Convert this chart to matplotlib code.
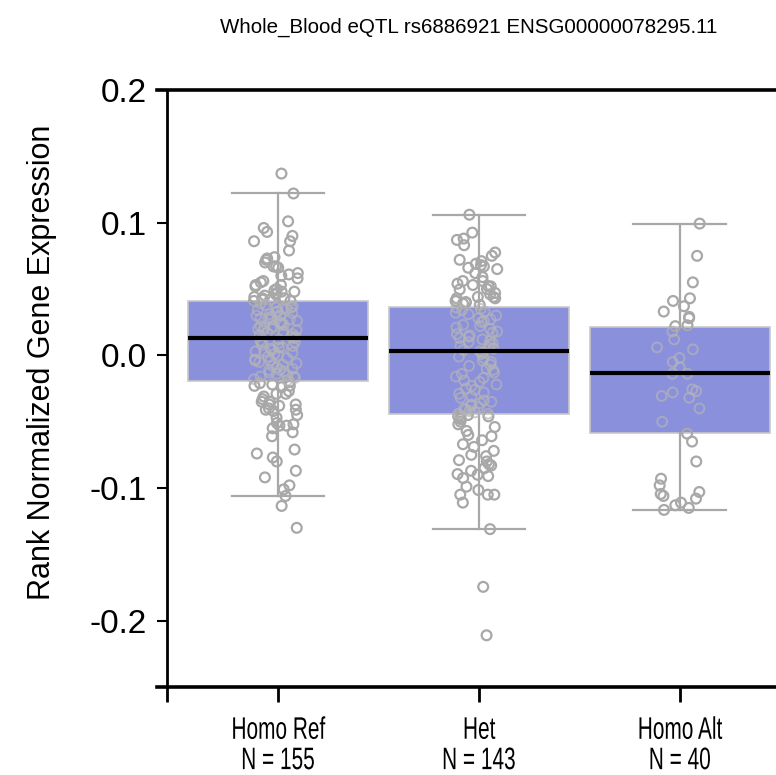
import numpy as np
import matplotlib
matplotlib.use("Agg")
import matplotlib.pyplot as plt
from matplotlib.patheffects import AbstractPathEffect
from matplotlib.transforms import Affine2D

plt.rcParams['font.family'] = ['Liberation Sans', 'DejaVu Sans']

title = "Whole_Blood eQTL rs6886921 ENSG00000078295.11"
groups = ["Homo Ref", "Het", "Homo Alt"]
counts = [155, 143, 40]

# box stats
medians = [0.0128, 0.0030, -0.0135]
q1 = [-0.0195, -0.0444, -0.0586]
q3 = [0.0406, 0.0368, 0.0210]
whis_lo = [-0.106, -0.131, -0.1165]
whis_hi = [0.122, 0.106, 0.0993]

# individual samples
homo_ref = [
    0.137, 0.122, 0.101, 0.096, 0.093, 0.090, 0.086, 0.086, 0.079, 0.074,
    0.073, 0.072, 0.070, 0.067, 0.067, 0.066, 0.062, 0.061, 0.060, 0.058,
    0.056, 0.055, 0.053, 0.053, 0.052, 0.050, 0.049, 0.048, 0.048, 0.047,
    0.046, 0.045, 0.044, 0.043, 0.043, 0.042, 0.042, 0.041, 0.041,
    0.039, 0.038, 0.037, 0.036, 0.036, 0.035, 0.035, 0.034, 0.033, 0.033,
    0.032, 0.031, 0.030, 0.030, 0.029, 0.028, 0.028, 0.027, 0.027, 0.026,
    0.025, 0.024, 0.024, 0.023, 0.022, 0.022, 0.021, 0.020, 0.020, 0.019,
    0.019, 0.018, 0.017, 0.016, 0.016, 0.015, 0.014, 0.014, 0.013, 0.012,
    0.011, 0.010, 0.010, 0.009, 0.008, 0.007, 0.006, 0.006, 0.005, 0.004,
    0.003, 0.003, 0.002, 0.001, 0.000, -0.001, -0.002, -0.003, -0.004, -0.004,
    -0.005, -0.006, -0.007, -0.008, -0.009, -0.010, -0.011, -0.011, -0.012, -0.013,
    -0.014, -0.015, -0.016, -0.016, -0.017, -0.018, -0.019,
    -0.020, -0.021, -0.022, -0.023, -0.023, -0.024, -0.027, -0.029, -0.029, -0.031,
    -0.033, -0.035, -0.035, -0.037, -0.037, -0.038, -0.040, -0.041, -0.041, -0.042,
    -0.045, -0.047, -0.051, -0.052, -0.053, -0.053, -0.055, -0.058, -0.061, -0.071,
    -0.074, -0.077, -0.080, -0.087, -0.092, -0.098, -0.101, -0.106, -0.1135, -0.130,
]
het = [
    0.106, 0.0925, 0.088, 0.087, 0.083, 0.0775, 0.075, 0.072, 0.071, 0.069,
    0.068, 0.067, 0.066, 0.065, 0.062, 0.059, 0.056, 0.056, 0.054, 0.053,
    0.052, 0.052, 0.050, 0.0496, 0.047, 0.046, 0.044, 0.044, 0.043, 0.043,
    0.041, 0.041, 0.040, 0.040, 0.039, 0.038,
    0.036, 0.035, 0.034, 0.033, 0.032, 0.031, 0.030, 0.028, 0.027, 0.026,
    0.025, 0.023, 0.022, 0.021, 0.020, 0.018, 0.017, 0.016, 0.015, 0.014,
    0.013, 0.012, 0.011, 0.010, 0.009, 0.008, 0.007, 0.006, 0.005, 0.004,
    0.003, 0.002, 0.001, -0.001, -0.002, -0.004, -0.005, -0.007, -0.008, -0.010,
    -0.011, -0.013, -0.014, -0.016, -0.017, -0.019, -0.020, -0.022, -0.023, -0.025,
    -0.026, -0.028, -0.029, -0.031, -0.032, -0.034, -0.035, -0.037, -0.038, -0.039,
    -0.040, -0.041, -0.042, -0.043, -0.044, -0.044, -0.036,
    -0.045, -0.046, -0.046, -0.047, -0.048, -0.050, -0.052, -0.054, -0.057, -0.060,
    -0.061, -0.064, -0.067, -0.069, -0.072, -0.075, -0.076, -0.079, -0.080, -0.082,
    -0.083, -0.085, -0.087, -0.0895, -0.090, -0.091, -0.0925, -0.099, -0.1015, -0.105,
    -0.105, -0.105, -0.111, -0.131, -0.1745, -0.211,
]
homo_alt = [
    0.0993, 0.075, 0.055, 0.043, 0.041, 0.037, 0.033, 0.029, 0.028, 0.0226,
    0.022, 0.018, 0.012, 0.006, 0.0045, -0.002, -0.005, -0.009, -0.014, -0.014,
    -0.0256, -0.027, -0.028, -0.0306, -0.032, -0.040, -0.050, -0.059, -0.065, -0.080,
    -0.093, -0.098, -0.103, -0.1045, -0.106, -0.111, -0.113, -0.115, -0.1165, -0.108,
]
samples = [homo_ref, het, homo_alt]


class Squeeze(AbstractPathEffect):
    # narrows text around its own centre (the original uses a condensed face)
    def __init__(self, sx=1.0, sy=1.0):
        super().__init__()
        self.sx = sx
        self.sy = sy

    def draw_path(self, renderer, gc, tpath, affine, rgbFace=None):
        ext = tpath.get_extents(affine)
        cx = ext.x0 + ext.width / 2
        cy = ext.y0 + ext.height / 2
        t = affine + Affine2D().translate(-cx, -cy).scale(self.sx, self.sy).translate(cx, cy)
        renderer.draw_path(gc, tpath, t, rgbFace)


fig = plt.figure(figsize=(7.76, 7.75), dpi=100)
ax = fig.add_axes([0.2023, 0.1135, 0.8165, 0.7704])

box_color = "#8a90dc"
point_color = "#a8a8a8"

stats = []
for i in range(3):
    stats.append({"med": medians[i], "q1": q1[i], "q3": q3[i],
                  "whislo": whis_lo[i], "whishi": whis_hi[i], "fliers": []})

ax.bxp(stats, positions=[0, 1, 2], widths=0.895, patch_artist=True,
       showfliers=False, capwidths=0.46,
       boxprops=dict(facecolor=box_color, edgecolor="#c8c8c8", linewidth=1.2),
       medianprops=dict(color="black", linewidth=3, zorder=5),
       whiskerprops=dict(color=point_color, linewidth=1.6),
       capprops=dict(color=point_color, linewidth=1.6))

# x jitter like a strip plot
rng = np.random.default_rng(7)
for i, vals in enumerate(samples):
    xs = i + rng.uniform(-0.12, 0.10, len(vals))
    vals = np.array(vals)
    inside = (vals > q1[i]) & (vals < q3[i])
    ax.scatter(xs[~inside], vals[~inside], s=50, facecolors="none",
               edgecolors=point_color, linewidths=1.6, zorder=4)
    ax.scatter(xs[inside], vals[inside], s=50, facecolors="none",
               edgecolors="#b4b4b8", linewidths=1.4, alpha=0.7, zorder=4)

ax.set_xlim(-0.602, 2.552)
ax.set_ylim(-0.25, 0.2)
ax.spines["left"].set_position(("data", -0.552))
ax.spines["right"].set_visible(False)
for side in ["top", "bottom"]:
    ax.spines[side].set_linewidth(2.6)
ax.spines["left"].set_linewidth(2.0)

ax.set_yticks([0.2, 0.1, 0.0, -0.1, -0.2])
ax.set_yticklabels(["0.2", "0.1", "0.0", "-0.1", "-0.2"])
ax.set_xticks([-0.552, 0, 1, 2])
ax.set_xticklabels([""] + [f"{g}\nN = {n}" for g, n in zip(groups, counts)],
                   linespacing=1.22)
ax.tick_params(axis="y", length=7.2, width=1.5, labelsize=24, pad=7.5)
ax.tick_params(axis="x", length=11, width=2, labelsize=20, pad=11)
for lab in ax.get_xticklabels():
    lab.set_path_effects([Squeeze(0.75, 1.12)])
ax.set_ylabel("Rank Normalized Gene Expression", fontsize=22)
ax.yaxis.set_label_coords(-0.158, 0.544)

fig.text(0.604, 0.965, title, ha="center", va="center", fontsize=14.8)

fig.savefig("out.png", dpi=100)
